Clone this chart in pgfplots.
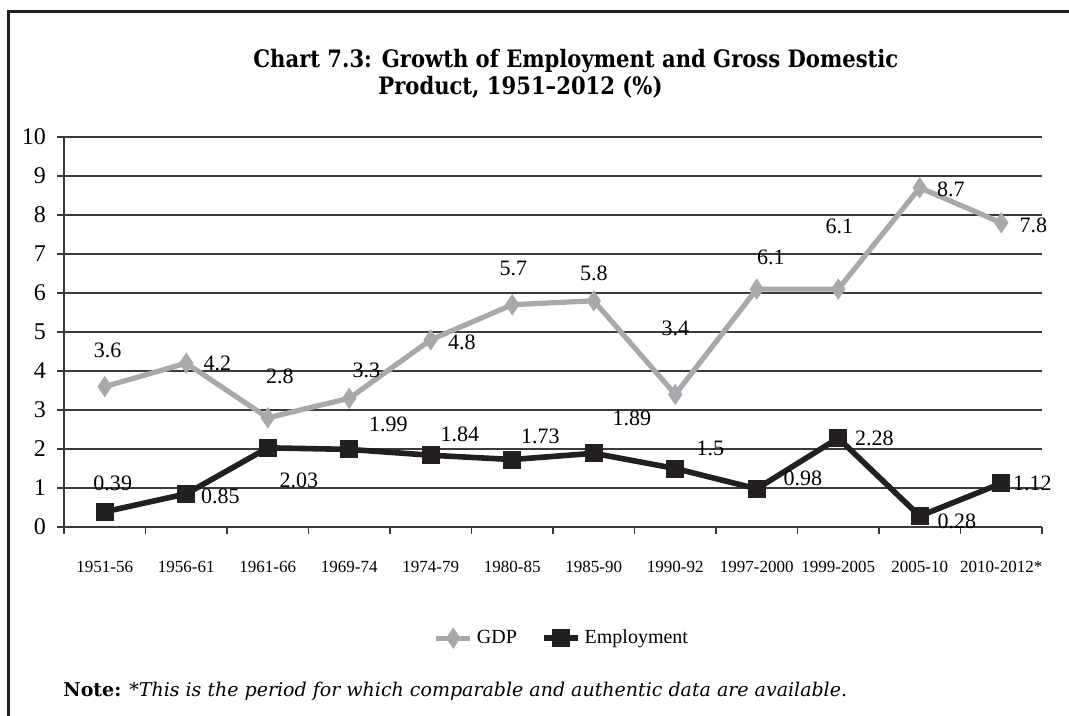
\documentclass[border=0pt]{standalone}
\usepackage{fontspec}
\setmainfont{Liberation Serif}
\newfontfamily\titlefont[FakeStretch=0.88]{DejaVu Serif}
\newfontfamily\notefont{DejaVu Serif}
\usepackage{pgfplots}
\usepackage{pgfplotstable}
\pgfplotsset{compat=1.18}
\definecolor{gdpgray}{HTML}{A7A9AC}
\definecolor{empblack}{HTML}{231F20}
\definecolor{gridc}{HTML}{3A3A3A}

\pgfplotstableread{
x y dx dy lab
0.5 3.6 1.5 18 3.6
1.5 4.2 15.5 0 4.2
2.5 2.8 6 20.5 2.8
3.5 3.3 8.5 14 3.3
4.5 4.8 15.5 -1.5 4.8
5.5 5.7 0.5 18 5.7
6.5 5.8 0 13.5 5.8
7.5 3.4 0 33 3.4
8.5 6.1 7 16 6.1
9.5 6.1 0.5 31.5 6.1
10.5 8.7 15.5 -1 8.7
11.5 7.8 16 -1.5 7.8
}\gdp

\pgfplotstableread{
x y dx dy lab
0.5 0.39 4 14 0.39
1.5 0.85 17 -1 0.85
2.5 2.03 15.5 -16.5 2.03
3.5 1.99 19.5 12.5 1.99
4.5 1.84 14.5 10.5 1.84
5.5 1.73 14 11.5 1.73
6.5 1.89 19 17.5 1.89
7.5 1.5 17.5 10 1.5
8.5 0.98 23 5 0.98
9.5 2.28 18 0 2.28
10.5 0.28 18.5 -2.5 0.28
11.5 1.12 15.5 0 1.12
}\emp

\begin{document}
\begin{tikzpicture}
\path[use as bounding box] (0,0) rectangle (534.5pt,-358pt);
\draw[line width=1.5pt, empblack] (4pt,-358pt) -- (4pt,-6pt) -- (534.5pt,-6pt);
\node[anchor=base west, inner sep=0pt, font=\titlefont\bfseries\fontsize{12}{14}\selectfont] at (126.5pt,-34pt) {Chart 7.3: Growth of Employment and Gross Domestic};
\node[anchor=base west, inner sep=0pt, font=\titlefont\bfseries\fontsize{12}{14}\selectfont] at (189pt,-47.5pt) {Product, 1951–2012 (\%)};
\begin{axis}[
  at={(32pt,-263.5pt)}, anchor=south west,
  scale only axis, width=489pt, height=195pt,
  xmin=0, xmax=12, ymin=0, ymax=10,
  axis x line*=bottom, axis y line*=left,
  axis line style={gridc, line width=0.75pt},
  xtick={0,...,12},
  x tick label as interval,
  xticklabels={1951-56,1956-61,1961-66,1969-74,1974-79,1980-85,1985-90,1990-92,1997-2000,1999-2005,2005-10,2010-2012*},
  ytick={0,...,10},
  ymajorgrids,
  grid style={gridc, line width=0.75pt},
  tick align=outside,
  major tick length=3.5pt,
  tick style={gridc, line width=0.75pt},
  /pgf/number format/assume math mode=true,
  y tick label style={font=\fontsize{12}{12}\selectfont, xshift=-2pt},
  x tick label style={font=\fontsize{8.5}{10}\selectfont, yshift=-10pt},
  clip=false,
  legend style={at={(0.51,-0.285)}, anchor=center, draw=none, fill=none,
    legend columns=2, font=\fontsize{10}{12}\selectfont,
    /tikz/every even column/.append style={column sep=10pt}},
  visualization depends on={\thisrow{dx} \as \dx},
  visualization depends on={\thisrow{dy} \as \dy},
]
\addplot[gdpgray, line width=2.6pt, mark=diamond*,
  mark size=5pt, mark options={solid, xscale=0.9, line width=0.4pt, fill=gdpgray, draw=gdpgray},
  nodes near coords, point meta=explicit symbolic,
  every node near coord/.append style={anchor=center, xshift=\dx pt, yshift=\dy pt, text=black, font=\fontsize{11}{11}\selectfont, inner sep=0pt}
] table[x=x, y=y, meta=lab] {\gdp};
\addlegendentry{GDP}
\addplot[empblack, line width=2.8pt, mark=square*,
  mark size=4.25pt, mark options={solid, line width=0.4pt, fill=empblack, draw=empblack},
  nodes near coords, point meta=explicit symbolic,
  every node near coord/.append style={anchor=center, xshift=\dx pt, yshift=\dy pt, text=black, font=\fontsize{11}{11}\selectfont, inner sep=0pt}
] table[x=x, y=y, meta=lab] {\emp};
\addlegendentry{Employment}
\end{axis}
\node[anchor=base west, inner sep=0pt, font=\notefont\fontsize{9.5}{11}\selectfont] at (31.5pt,-348pt) {\textbf{Note:} \textit{*This is the period for which comparable and authentic data are available.}};
\end{tikzpicture}
\end{document}
